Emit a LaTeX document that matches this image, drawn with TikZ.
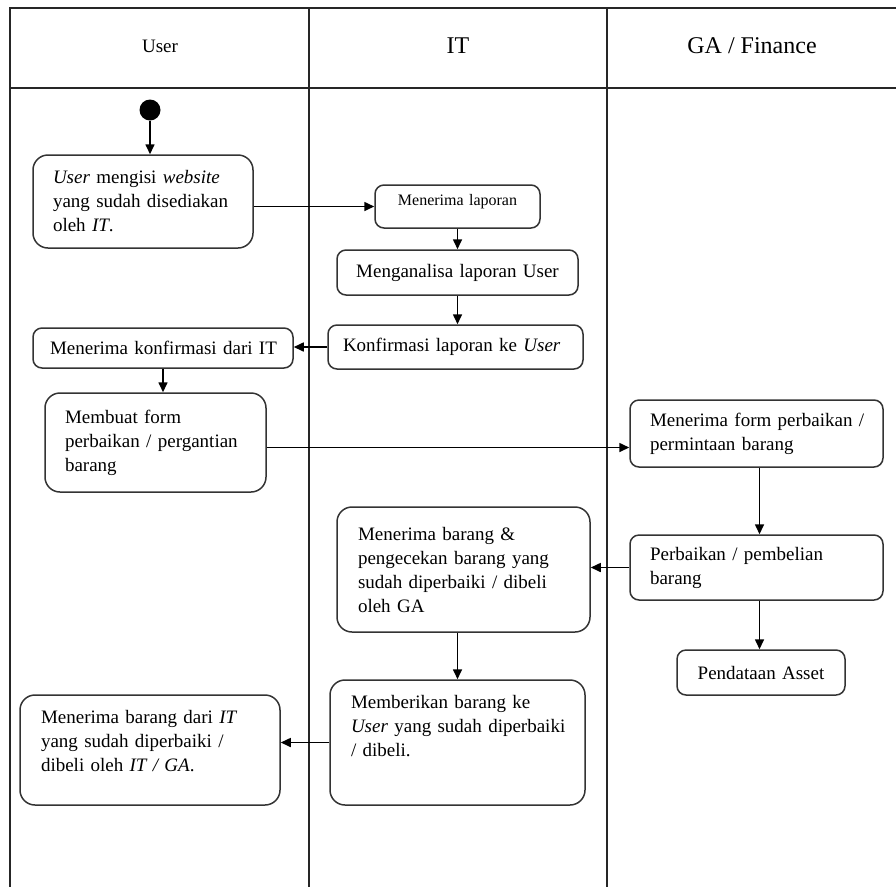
\documentclass[tikz,border=0pt]{standalone}
\usepackage{fontspec}
\setmainfont{Liberation Serif}
\usetikzlibrary{arrows.meta}

\begin{document}
\begin{tikzpicture}[x=1pt, y=-1pt,
  lane/.style={line width=1.5pt, draw=black!85},
  act/.style={draw=black!80, line width=1.5pt, rounded corners=9pt,
    align=left, inner ysep=0pt, font=\fontsize{19}{24}\selectfont},
  bigact/.style={act, rounded corners=15pt},
  flow/.style={line width=1.6pt, -{Triangle[length=10pt,width=9pt]}},
  head/.style={font=\fontsize{24}{28}\selectfont}
]
% page size
\useasboundingbox (0,0) rectangle (896,887);

% swimlane frame
\draw[lane] (896,8) -- (10,8) -- (10,887);
\draw[lane] (10,88) -- (896,88);
\draw[lane] (309,8) -- (309,887);
\draw[lane] (607,8) -- (607,887);

\node[font=\fontsize{19}{22}\selectfont] (hUser) at (160,46) {User};
\node[head] (hIT) at (458,46) {IT};
\node[head] (hGA) at (752,46) {GA / Finance};

% start state
\node[circle, fill=black, minimum size=21pt, inner sep=0pt] (start) at (150,110) {};

% activities: User lane
\node[bigact, text width=180pt, inner xsep=20pt, minimum height=93pt] (A) at (143,201.5)
  {\mbox{\textit{User} mengisi \textit{website}}\\ \mbox{yang sudah disediakan}\\ oleh \textit{IT}.};
\node[act, text width=226pt, inner xsep=17pt, minimum height=40pt] (E) at (163,348)
  {\mbox{Menerima konfirmasi dari IT}};
\node[bigact, text width=181pt, inner xsep=20pt, minimum height=99pt] (F) at (155.5,442.5)
  {Membuat form\\ \mbox{perbaikan / pergantian}\\ barang};
\node[bigact, text width=218pt, inner xsep=21pt, minimum height=110pt] (L) at (150,750)
  {\mbox{Menerima barang dari \textit{IT}}\\ \mbox{yang sudah diperbaiki /}\\ \mbox{dibeli oleh \textit{IT / GA}.}\\[-6pt]\mbox{}};

% activities: IT lane
\node[act, font=\fontsize{16}{19}\selectfont, text width=135pt, inner xsep=15pt, minimum height=43pt] (B) at (457.5,206.5)
  {\hfill Menerima laporan\hfill\mbox{}\\[-6pt]\mbox{}};
\node[act, text width=211pt, inner xsep=15pt, minimum height=45pt] (C) at (457.5,272.5)
  {\hfill\mbox{Menganalisa laporan User}\hfill\mbox{}};
\node[act, text width=225pt, inner xsep=15pt, minimum height=44pt] (D) at (455.5,347)
  {\mbox{Konfirmasi laporan ke \textit{User}}};
\node[bigact, text width=211pt, inner xsep=21pt, minimum height=125pt] (J) at (463.5,569.5)
  {\mbox{Menerima barang \&}\\ \mbox{pengecekan barang yang}\\ \mbox{sudah diperbaiki / dibeli}\\ oleh GA};
\node[bigact, text width=213pt, inner xsep=21pt, minimum height=125pt] (K) at (457.5,742.5)
  {\mbox{Memberikan barang ke}\\ \mbox{\textit{User} yang sudah diperbaiki}\\ / dibeli.\\[9pt]\mbox{}};

% activities: GA / Finance lane
\node[act, text width=213pt, inner xsep=20pt, minimum height=67pt] (G) at (756.5,433.5)
  {\mbox{Menerima form perbaikan /}\\ \mbox{permintaan barang}};
\node[act, text width=213pt, inner xsep=20pt, minimum height=65pt] (H) at (756.5,567.5)
  {\mbox{Perbaikan / pembelian}\\ barang};
\node[act, text width=138pt, inner xsep=15pt, minimum height=45pt] (I) at (761,672.5)
  {\hfill\mbox{Pendataan Asset}\hfill\mbox{}};

% control flow
\draw[flow] (start) -- (start |- A.north);
\draw[flow] (B.west -| A.east) -- (B.west);
\draw[flow] (B.south) -- (B.south |- C.north);
\draw[flow] (C.south) -- (C.south |- D.north);
\draw[flow] (D.west) -- (D.west -| E.east);
\draw[flow] (E.south) -- (E.south |- F.north);
\draw[flow] ([yshift=-5pt]F.east) -- ([yshift=-5pt]F.east -| G.west);
\draw[flow] ([xshift=3pt]G.south) -- ([xshift=3pt]G.south |- H.north);
\draw[flow] ([xshift=3pt]H.south) -- ([xshift=3pt]H.south |- I.north);
\draw[flow] (H.west) -- (H.west -| J.east);
\draw[flow] (J.south -| K.north) -- (K.north);
\draw[flow] (K.west) -- (K.west -| L.east);
\end{tikzpicture}
\end{document}
